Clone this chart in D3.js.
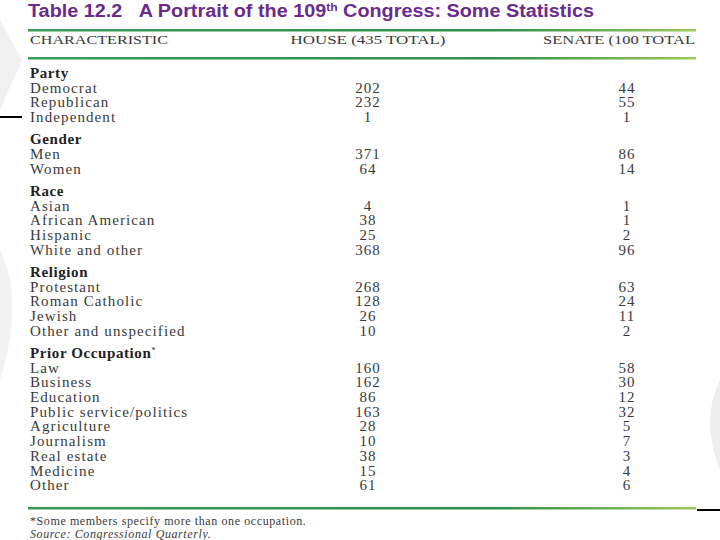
<!DOCTYPE html>
<html><head><meta charset="utf-8">
<script src="https://cdn.jsdelivr.net/npm/d3@7"></script>
<style>body{margin:0;background:#fff}</style>
</head><body>
<div id="table"></div>
<script>
  // Table data
  const sections = ["Party", "Gender", "Race", "Religion", "Prior Occupation"];
  const partyRows = ["Democrat", "Republican", "Independent"];
  const partyHouse = [202, 232, 1];
  const partySenate = [44, 55, 1];
  const genderRows = ["Men", "Women"];
  const genderHouse = [371, 64];
  const genderSenate = [86, 14];
  const raceRows = ["Asian", "African American", "Hispanic", "White and other"];
  const raceHouse = [4, 38, 25, 368];
  const raceSenate = [1, 1, 2, 96];
  const religionRows = ["Protestant", "Roman Catholic", "Jewish", "Other and unspecified"];
  const religionHouse = [268, 128, 26, 10];
  const religionSenate = [63, 24, 11, 2];
  const occRows = ["Law", "Business", "Education", "Public service/politics", "Agriculture",
    "Journalism", "Real estate", "Medicine", "Other"];
  const occHouse = [160, 162, 86, 163, 28, 10, 38, 15, 61];
  const occSenate = [58, 30, 12, 32, 5, 7, 3, 4, 6];

  const groups = [
    [partyRows, partyHouse, partySenate],
    [genderRows, genderHouse, genderSenate],
    [raceRows, raceHouse, raceSenate],
    [religionRows, religionHouse, religionSenate],
    [occRows, occHouse, occSenate]
  ];

  const width = 720, height = 540;
  const svg = d3.select("#table").append("svg")
    .attr("width", width).attr("height", height);

  // faint background shapes
  svg.append("path").attr("d", "M0,20 L22,60 L0,110 Z").attr("fill", "#f0f0f0");
  svg.append("path").attr("d", "M0,250 Q25,300 0,380 Z").attr("fill", "#f2f2f2");
  svg.append("path").attr("d", "M720,380 Q700,420 720,470 Z").attr("fill", "#eeeeee");

  const serif = "'Liberation Serif', 'DejaVu Serif', serif";
  const textCol = "#3a3a3a";

  svg.append("text")
    .attr("x", 28).attr("y", 17)
    .attr("font-family", "'Liberation Sans', Arial, sans-serif")
    .attr("font-weight", "bold").attr("font-size", 18).attr("fill", "#6a2c8c")
    .attr("textLength", 566).attr("lengthAdjust", "spacingAndGlyphs")
    .html("Table 12.2&#160;&#160;&#160;A Portrait of the 109<tspan dy='-6' font-size='11'>th</tspan><tspan dy='6'> Congress: Some Statistics</tspan>");

  const lineGrad = svg.append("defs").append("linearGradient").attr("id", "g");
  lineGrad.append("stop").attr("offset", "0%").attr("stop-color", "#3a9a5a");
  lineGrad.append("stop").attr("offset", "70%").attr("stop-color", "#2f8f4a");
  lineGrad.append("stop").attr("offset", "100%").attr("stop-color", "#9cc85a");
  [29, 57, 507].forEach(y => svg.append("rect")
    .attr("x", 28).attr("y", y).attr("width", 668).attr("height", 2.5).attr("fill", "url(#g)"));

  const header = [["CHARACTERISTIC", 30, "start", 138], ["HOUSE (435 TOTAL)", 368, "middle", 155], ["SENATE (100 TOTAL", 695, "end", 152]];
  header.forEach(([t, x, a, len]) => svg.append("text")
    .attr("x", x).attr("y", 44).attr("text-anchor", a)
    .attr("font-family", serif).attr("font-size", 13.5)
    .attr("textLength", len).attr("lengthAdjust", "spacingAndGlyphs")
    .attr("fill", textCol).text(t));

  // row layout
  const rowH = 14.7, gap = 7.5;
  let y = 78;
  const rows = [];
  groups.forEach(([names, h, s], gi) => {
    rows.push({ label: sections[gi], head: true, y });
    y += rowH;
    names.forEach((n, i) => { rows.push({ label: n, house: h[i], senate: s[i], y }); y += rowH; });
    y += gap;
  });

  const xCol = d3.scaleOrdinal().domain(["label", "house", "senate"]).range([30, 368, 627]);

  const g = svg.append("g").attr("font-family", serif).attr("font-size", 15).attr("fill", textCol);
  g.selectAll(".lab").data(rows).enter().append("text").attr("class", "lab")
    .attr("x", xCol("label")).attr("y", d => d.y)
    .attr("font-weight", d => d.head ? "bold" : null)
    .attr("fill", d => d.head ? "#222" : textCol)
    .attr("letter-spacing", d => d.head ? 0.6 : 1.1)
    .text(d => d.label);
  g.selectAll(".hv").data(rows.filter(d => !d.head)).enter().append("text")
    .attr("x", xCol("house")).attr("y", d => d.y).attr("text-anchor", "middle")
    .attr("letter-spacing", 1).text(d => d.house);
  g.selectAll(".sv").data(rows.filter(d => !d.head)).enter().append("text")
    .attr("x", xCol("senate")).attr("y", d => d.y).attr("text-anchor", "middle")
    .attr("letter-spacing", 1).text(d => d.senate);
  // footnote marker on Prior Occupation
  g.selectAll(".lab").filter(d => d.label === "Prior Occupation")
    .append("tspan").attr("dy", -5).attr("font-size", 8).attr("font-weight", "normal").text("*");

  svg.append("text").attr("x", 30).attr("y", 525).attr("font-family", serif)
    .attr("font-size", 12).attr("letter-spacing", 0.6).attr("fill", textCol)
    .text("*Some members specify more than one occupation.");
  svg.append("text").attr("x", 30).attr("y", 538).attr("font-family", serif).attr("font-style", "italic")
    .attr("font-size", 12).attr("letter-spacing", 0.6).attr("fill", textCol)
    .text("Source: Congressional Quarterly.");

  // black edge marks
  svg.append("rect").attr("x", 0).attr("y", 116).attr("width", 22).attr("height", 2).attr("fill", "#000");
  svg.append("rect").attr("x", 697).attr("y", 509).attr("width", 23).attr("height", 2).attr("fill", "#000");
</script>
</body></html>
